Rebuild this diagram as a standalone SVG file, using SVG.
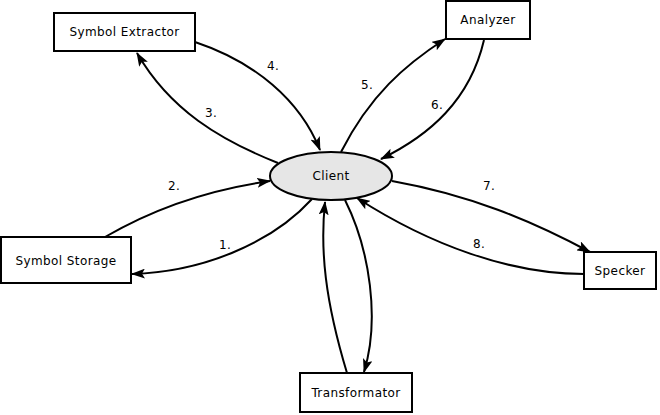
<svg xmlns="http://www.w3.org/2000/svg" width="660" height="415" viewBox="0 0 660 415">
<style>
.box{fill:#fff;stroke:#000;stroke-width:2}
.ell{fill:#e6e6e6;stroke:#000;stroke-width:2}
.t{font-family:"DejaVu Sans",sans-serif;font-size:12px;letter-spacing:0.4px;fill:#000;text-anchor:middle}
.lbl{font-family:"DejaVu Sans",sans-serif;font-size:12px;letter-spacing:0.4px;fill:#000}
.e{fill:none;stroke:#000;stroke-width:2;marker-end:url(#ah)}
</style>
<defs>
<marker id="ah" viewBox="0 0 14 10" refX="13" refY="5" markerWidth="14" markerHeight="10" markerUnits="userSpaceOnUse" orient="auto">
<path d="M0,0 L14,5 L0,10 L3,5 z" fill="#000"/>
</marker>
</defs>
<rect width="660" height="415" fill="#fff"/>
<g id="connectors">
<path class="e" d="M195,42 C255,62 300,100 320,150"/>
<path class="e" d="M278,163 C220,140 170,110 137,53"/>
<path class="e" d="M105,237 C160,205 220,188 270,181"/>
<path class="e" d="M312,199 C270,245 200,272 132,274"/>
<path class="e" d="M341,152 C370,95 405,65 445,39"/>
<path class="e" d="M484,40 C470,100 430,135 381,159"/>
<path class="e" d="M392,181 C470,195 530,220 590,252"/>
<path class="e" d="M584,274 C510,274 430,245 357,198"/>
<path class="e" d="M347,373 C325,300 320,250 325,202"/>
<path class="e" d="M345,200 C370,250 380,320 364,372"/>
<text class="lbl" x="267" y="70">4.</text>
<text class="lbl" x="205" y="117">3.</text>
<text class="lbl" x="168" y="190">2.</text>
<text class="lbl" x="219" y="249">1.</text>
<text class="lbl" x="361" y="89">5.</text>
<text class="lbl" x="431" y="109">6.</text>
<text class="lbl" x="483" y="190">7.</text>
<text class="lbl" x="473" y="248">8.</text>
</g>
<g id="symbol-extractor"><rect class="box" x="54" y="13" width="141" height="38"/><text class="t" x="124.5" y="36">Symbol Extractor</text></g>
<g id="analyzer"><rect class="box" x="446" y="1" width="84" height="38"/><text class="t" x="488" y="24">Analyzer</text></g>
<g id="client"><ellipse class="ell" cx="331" cy="176" rx="61" ry="24"/><text class="t" x="331" y="180">Client</text></g>
<g id="symbol-storage"><rect class="box" x="1" y="237" width="130" height="46"/><text class="t" x="66" y="265">Symbol Storage</text></g>
<g id="specker"><rect class="box" x="584" y="252" width="72" height="37"/><text class="t" x="620" y="275">Specker</text></g>
<g id="transformator"><rect class="box" x="300" y="373" width="112" height="39"/><text class="t" x="356" y="397">Transformator</text></g>
</svg>
